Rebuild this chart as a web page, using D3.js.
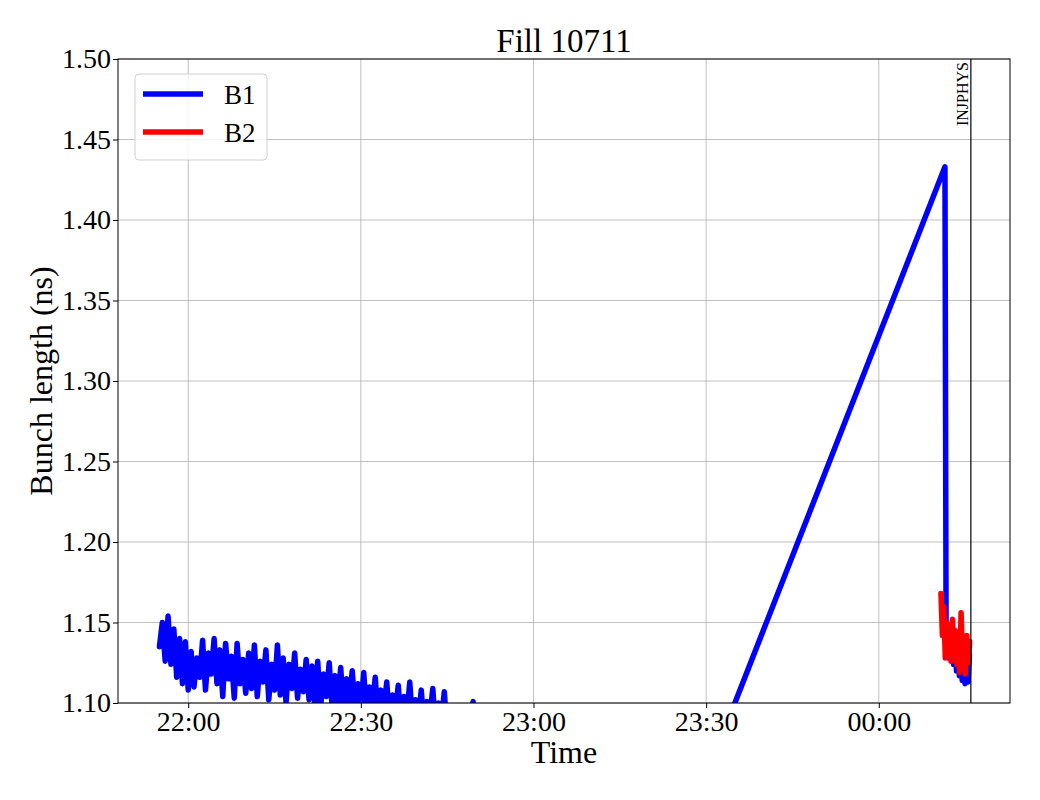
<!DOCTYPE html>
<html>
<head>
<meta charset="utf-8">
<script src="https://cdn.jsdelivr.net/npm/d3@7"></script>
<style>
  body { margin: 0; background: #fff; }
  svg text { font-family: "Liberation Serif", "DejaVu Serif", serif; }
</style>
</head>
<body>
<svg id="chart" width="1040" height="800"></svg>
<script>
// Fill 10711 - bunch length per beam
const base = new Date(2024, 5, 1, 0, 0, 0);
const at = (h, m) => new Date(base.getTime() + (h * 60 + m) * 60000);

// B1: noisy start, from 21:55 every 0.5 min
const b1StartMin = 21 * 60 + 55;
const b1Noise = [
  1.135, 1.150, 1.126, 1.154, 1.124, 1.146, 1.116, 1.140, 1.112, 1.138, 1.108,
  1.132, 1.110, 1.128, 1.116, 1.139, 1.108, 1.131, 1.118, 1.140, 1.112,
  1.133, 1.104, 1.137, 1.115, 1.129, 1.103, 1.137, 1.112, 1.127, 1.106,
  1.131, 1.109, 1.136, 1.104, 1.126, 1.113, 1.133, 1.102, 1.124, 1.108,
  1.136, 1.105, 1.128, 1.100, 1.124, 1.109, 1.131, 1.103, 1.121, 1.107,
  1.127, 1.102, 1.123, 1.099, 1.126, 1.097, 1.118, 1.104, 1.125, 1.098,
  1.117, 1.101, 1.122, 1.094, 1.115, 1.100, 1.120, 1.095, 1.112, 1.098,
  1.119, 1.092, 1.110, 1.099, 1.116, 1.090, 1.108, 1.096, 1.113, 1.088,
  1.105, 1.095, 1.111, 1.086, 1.104, 1.093, 1.113, 1.087, 1.102, 1.091,
  1.108, 1.084, 1.101, 1.092, 1.109, 1.083, 1.100, 1.090, 1.107, 1.082,
  1.091, 1.082, 1.094, 1.080, 1.088, 1.083, 1.092, 1.080, 1.101, 1.085
];
// B1: ramp and tail (minutes after midnight of day 1, 24*60+ for next day)
const b1TailMin = [22*60+53, 24*60+11.5, 24*60+11.7, 24*60+12.0, 24*60+12.25, 24*60+12.5, 24*60+12.75,
  24*60+13.0, 24*60+13.25, 24*60+13.5, 24*60+13.75, 24*60+14.0, 24*60+14.25, 24*60+14.5,
  24*60+14.75, 24*60+15.0, 24*60+15.25, 24*60+15.5, 24*60+15.75];
const b1TailVal = [0.717, 1.433, 1.138, 1.128, 1.145, 1.130, 1.140,
  1.124, 1.138, 1.120, 1.134, 1.117, 1.130, 1.114,
  1.128, 1.112, 1.125, 1.113, 1.130];

// B2: from 00:10.8 every 0.25 min
const b2StartMin = 24 * 60 + 10.8;
const b2Val = [1.168, 1.142, 1.160, 1.128, 1.150, 1.135, 1.148, 1.126, 1.152, 1.131,
  1.145, 1.124, 1.140, 1.119, 1.156, 1.128, 1.137, 1.118, 1.142, 1.125, 1.138];

const yTicks = [1.10, 1.15, 1.20, 1.25, 1.30, 1.35, 1.40, 1.45, 1.50];
const injphysMin = 24 * 60 + 16;

const b1 = b1Noise.map((v, i) => ({ t: at(0, b1StartMin + i * 0.5), v }))
  .concat(b1TailMin.map((m, i) => ({ t: at(0, m), v: b1TailVal[i] })));
const b2 = b2Val.map((v, i) => ({ t: at(0, b2StartMin + i * 0.25), v }));

const W = 1040, H = 800;
const m = { left: 118, right: 30, top: 59, bottom: 97 };
const svg = d3.select("#chart");

const x = d3.scaleTime()
  .domain([at(0, 21*60+47.8), at(0, 24*60+22.8)])
  .range([m.left, W - m.right]);
const y = d3.scaleLinear().domain([1.10, 1.50]).range([H - m.bottom, m.top]);

svg.append("defs").append("clipPath").attr("id", "clip")
  .append("rect").attr("x", m.left).attr("y", m.top)
  .attr("width", W - m.left - m.right).attr("height", H - m.top - m.bottom);

const xTicks = d3.timeMinute.every(30).range(x.domain()[0], x.domain()[1]);

// grid
const grid = svg.append("g").attr("stroke", "#b0b0b0").attr("stroke-width", 0.8);
grid.selectAll(".gx").data(xTicks).join("line")
  .attr("x1", d => x(d)).attr("x2", d => x(d)).attr("y1", m.top).attr("y2", H - m.bottom);
grid.selectAll(".gy").data(yTicks).join("line")
  .attr("x1", m.left).attr("x2", W - m.right).attr("y1", d => y(d)).attr("y2", d => y(d));

// lines
const line = d3.line().x(d => x(d.t)).y(d => y(d.v));
const plot = svg.append("g").attr("clip-path", "url(#clip)");
plot.append("path").datum(b1).attr("d", line).attr("fill", "none")
  .attr("stroke", "#0000ff").attr("stroke-width", 5.5).attr("stroke-linejoin", "round").attr("stroke-linecap", "round");
plot.append("path").datum(b2).attr("d", line).attr("fill", "none")
  .attr("stroke", "#ff0000").attr("stroke-width", 5.5).attr("stroke-linejoin", "round").attr("stroke-linecap", "round");

// INJPHYS marker
const xi = x(at(0, injphysMin));
svg.append("line").attr("x1", xi).attr("x2", xi).attr("y1", m.top).attr("y2", H - m.bottom)
  .attr("stroke", "#000").attr("stroke-width", 1.2);
svg.append("text").attr("transform", `translate(${xi - 3},${m.top + 3}) rotate(-90)`)
  .attr("text-anchor", "end").attr("font-size", 16).text("INJPHYS");

// axes
const xAxis = svg.append("g").attr("transform", `translate(0,${H - m.bottom})`)
  .call(d3.axisBottom(x).tickValues(xTicks).tickFormat(d3.timeFormat("%H:%M")).tickSize(5).tickPadding(3));
const yAxis = svg.append("g").attr("transform", `translate(${m.left},0)`)
  .call(d3.axisLeft(y).tickValues(yTicks).tickFormat(d3.format(".2f")).tickSize(5).tickPadding(2));
[xAxis, yAxis].forEach(a => {
  a.select(".domain").remove();
  a.selectAll("text").attr("font-size", 28).attr("fill", "#000").attr("font-family", "Liberation Serif, serif");
  a.selectAll("line").attr("stroke", "#000");
});

// frame
svg.append("rect").attr("x", m.left).attr("y", m.top)
  .attr("width", W - m.left - m.right).attr("height", H - m.top - m.bottom)
  .attr("fill", "none").attr("stroke", "#000").attr("stroke-width", 1);

// titles
svg.append("text").attr("x", (m.left + W - m.right) / 2).attr("y", 52)
  .attr("text-anchor", "middle").attr("font-size", 33).text("Fill 10711");
svg.append("text").attr("x", (m.left + W - m.right) / 2).attr("y", 763)
  .attr("text-anchor", "middle").attr("font-size", 32).text("Time");
svg.append("text").attr("transform", `translate(52,${(m.top + H - m.bottom) / 2}) rotate(-90)`)
  .attr("text-anchor", "middle").attr("font-size", 32).text("Bunch length (ns)");

// legend
const lg = svg.append("g");
lg.append("rect").attr("x", 135).attr("y", 74).attr("width", 132).attr("height", 86).attr("rx", 4)
  .attr("fill", "#fff").attr("fill-opacity", 0.8).attr("stroke", "#d0d0d0");
const series = [{ name: "B1", color: "#0000ff" }, { name: "B2", color: "#ff0000" }];
series.forEach((s, i) => {
  const yy = 94 + i * 38;
  lg.append("line").attr("x1", 143).attr("x2", 203).attr("y1", yy).attr("y2", yy)
    .attr("stroke", s.color).attr("stroke-width", 5.5);
  lg.append("text").attr("x", 224).attr("y", yy + 10).attr("font-size", 27).text(s.name);
});
</script>
</body>
</html>
